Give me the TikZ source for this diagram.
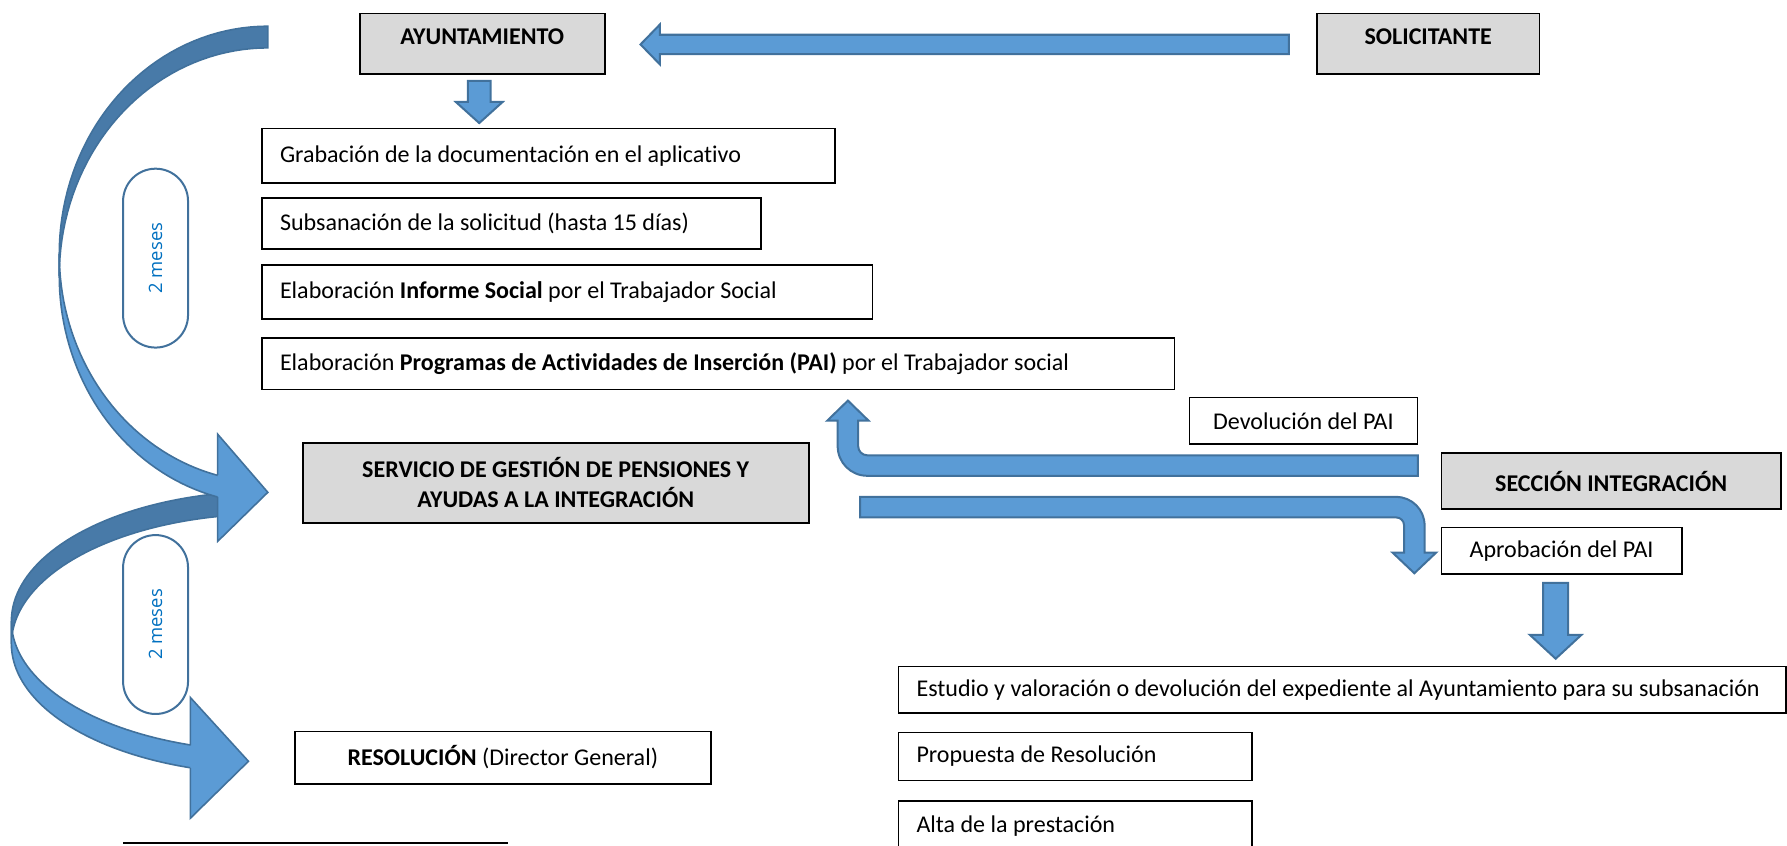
\documentclass[tikz,border=0pt]{standalone}
\usepackage{fontspec}
\setmainfont{Carlito}[Ligatures = {TeX, NoCommon}]
\newfontfamily\mesesfont{Open Sans}
\usetikzlibrary{calc}

\definecolor{azul}{HTML}{5B9BD5}
\definecolor{azuloscuro}{HTML}{487AA8}
\definecolor{bordeazul}{HTML}{41719C}
\definecolor{grisclaro}{HTML}{D9D9D9}
\definecolor{textoazul}{HTML}{0070C0}

\begin{document}
\begin{tikzpicture}[x = 0.02cm, y = -0.02cm,
		caja/.style = {draw, line width = 0.8pt, anchor = north west, inner xsep = 0.32cm, inner ysep = 0pt, align = left, text width = #1, font = \fontsize{12}{15}\selectfont, execute at begin node = {\spaceskip = 0pt \xspaceskip = 0pt}},
		centro/.style = {draw, line width = 0.8pt, anchor = north west, inner sep = 0pt, align = center, font = \fontsize{12}{15}\selectfont},
		cabecera/.style = {centro, fill = grisclaro, text height = 0.54cm, text depth = 0.52cm},
		flecha/.style = {draw = bordeazul, fill = azul, line width = 1pt},
		curva/.style = {draw = bordeazul, line width = 0.8pt},
		meses/.style = {draw = bordeazul, fill = white, line width = 1pt, rounded corners = 0.57cm, minimum width = 3.14cm, minimum height = 1.14cm, inner sep = 0pt, rotate = 90, text = textoazul, font = \mesesfont\fontsize{9.2}{11}\selectfont}]
	
	\useasboundingbox (0, 0) rectangle (1568, 742);
	\clip (0, 0) rectangle (1568, 742);
	
	% cajas
	\node[cabecera, minimum width = 4.3cm, minimum height = 1.06cm] (ayunt) at (315, 11) {\textbf{AYUNTAMIENTO}};
	\node[cabecera, minimum width = 3.9cm, minimum height = 1.06cm] (solic) at (1155, 11) {\textbf{SOLICITANTE}};
	
	\node[caja = 9.42cm, minimum height = 0.96cm] (grab) at (229, 112) {Grabación de la documentación en el aplicativo};
	\node[caja = 8.12cm, minimum height = 0.9cm] (subs) at (229, 173) {Subsanación de la solicitud (hasta 15 días)};
	\node[caja = 10.08cm, minimum height = 0.94cm] (inf) at (229, 232) {Elaboración \textbf{Informe Social} por el Trabajador Social};
	\node[caja = 15.38cm, minimum height = 0.9cm] (pai) at (229, 296) {Elaboración \textbf{Programas de Actividades de Inserción (PAI)} por el Trabajador social};
	
	\node[centro, fill = grisclaro, minimum width = 8.88cm, minimum height = 1.4cm] (serv) at (265, 388) {\textbf{SERVICIO DE GESTIÓN DE PENSIONES Y}\\\textbf{AYUDAS A LA INTEGRACIÓN}};
	\node[centro, minimum width = 7.3cm, minimum height = 0.92cm] (resol) at (258, 641) {\textbf{RESOLUCIÓN} (Director General)};
	
	\node[centro, minimum width = 4cm, minimum height = 0.82cm] (devol) at (1043, 348) {Devolución del PAI};
	\node[centro, fill = grisclaro, minimum width = 5.96cm, minimum height = 0.98cm] (secc) at (1264, 397) {\textbf{SECCIÓN INTEGRACIÓN}};
	\node[centro, minimum width = 4.22cm, minimum height = 0.82cm] (aprob) at (1264, 462) {Aprobación del PAI};
	
	\node[caja = 14.94cm, minimum height = 0.82cm] (estud) at (787.5, 584) {\mbox{Estudio y valoración o devolución del expediente al Ayuntamiento para su subsanación}};
	\node[caja = 5.57cm, minimum height = 0.84cm] (prop) at (787.5, 642) {Propuesta de Resolución};
	\node[caja = 5.57cm, minimum height = 0.9cm] (alta) at (787.5, 702) {Alta de la prestación};
	
	% flechas rectas
	\coordinate (t1) at (1131, 39);
	\coordinate (p1) at (562, 39);
	\draw[flecha] (p1) -- ++(17, -17.5) -- ++(0, 9) -- ($(t1) + (0, -8.5)$) -- ($(t1) + (0, 8.5)$) -- ($(p1) + (17, 8.5)$) -- ++(0, 9) -- cycle;
	
	\coordinate (t2) at (420.5, 71);
	\coordinate (p2) at (420.5, 108);
	\draw[flecha] (p2) -- ++(20.5, -18.5) -- ++(-10.5, 0) -- ($(t2) + (10, 0)$) -- ($(t2) + (-10, 0)$) -- ($(p2) + (-10, -18.5)$) -- ++(-10.5, 0) -- cycle;
	
	\coordinate (t3) at (1365, 511.5);
	\coordinate (p3) at (1365, 578);
	\draw[flecha] (p3) -- ++(22.7, -21) -- ++(-11.7, 0) -- ($(t3) + (11, 0)$) -- ($(t3) + (-11, 0)$) -- ($(p3) + (-11, -21)$) -- ++(-11.7, 0) -- cycle;
	
	% flechas dobladas
	\coordinate (t4) at (1244, 408.5);
	\coordinate (p4) at (744, 351.5);
	\draw[flecha] (p4) -- (762, 369) -- (753, 369) -- (753, 391.5) .. controls (753, 395.9) and (756.6, 399.5) .. (761, 399.5)
		-- ($(t4) + (0, -9)$) -- ($(t4) + (0, 9)$) -- (761, 417.5) .. controls (746.6, 417.5) and (735, 405.9) .. (735, 391.5)
		-- (735, 369) -- (726, 369) -- cycle;
	
	\coordinate (t5) at (754.6, 445);
	\coordinate (p5) at (1241, 503);
	\draw[flecha] ($(t5) + (0, -9)$) -- (1225, 436) .. controls (1238.8, 436) and (1250, 447.2) .. (1250, 461) -- (1250, 485) -- (1260, 485)
		-- (p5) -- (1222, 485) -- (1232, 485) -- (1232, 461) .. controls (1232, 457.1) and (1228.9, 454) .. (1225, 454)
		-- ($(t5) + (0, 9)$) -- cycle;
	
	% flechas curvas
	\draw[curva, fill = azuloscuro] plot[domain = 259.2:180, samples = 40, variable = \t] ({235 + 225*cos(\t)}, {545 + 114*sin(\t)})
		-- plot[domain = 180:259.2, samples = 40, variable = \t] ({235 + 225*cos(\t)}, {565 + 114*sin(\t)}) -- cycle;
	\draw[curva, fill = azul] plot[domain = 180:106.5, samples = 40, variable = \t] ({235 + 225*cos(\t)}, {545 + 114*sin(\t)})
		-- plot[domain = 106.5:180, samples = 40, variable = \t] ({235 + 225*cos(\t)}, {565 + 114*sin(\t)}) -- cycle;
	\fill[azul] (167, 612) -- (218, 668) -- (167, 718) -- cycle;
	\draw[curva] (167, 654) -- (167, 612) -- (218, 668) -- (167, 718) -- (167, 674);
	
	\draw[curva, fill = azuloscuro] plot[domain = 270:180, samples = 40, variable = \t] ({235 + 183*cos(\t)}, {223 + 200*sin(\t)})
		-- plot[domain = 180:270, samples = 40, variable = \t] ({235 + 183*cos(\t)}, {242 + 200*sin(\t)}) -- cycle;
	\draw[curva, fill = azul] plot[domain = 180:102.6, samples = 40, variable = \t] ({235 + 183*cos(\t)}, {223 + 200*sin(\t)})
		-- plot[domain = 102.6:180, samples = 40, variable = \t] ({235 + 183*cos(\t)}, {242 + 200*sin(\t)}) -- cycle;
	\fill[azul] (191, 381) -- (235, 432) -- (191, 475) -- cycle;
	\draw[curva] (191, 417) -- (191, 381) -- (235, 432) -- (191, 475) -- (191, 436);
	
	\node[meses] (mes1) at (136.5, 226.5) {2 meses};
	\node[meses] (mes2) at (136.5, 548) {2 meses};
	
	\draw[line width = 1pt] (108, 740) -- (446, 740);
	
\end{tikzpicture}
\end{document}
